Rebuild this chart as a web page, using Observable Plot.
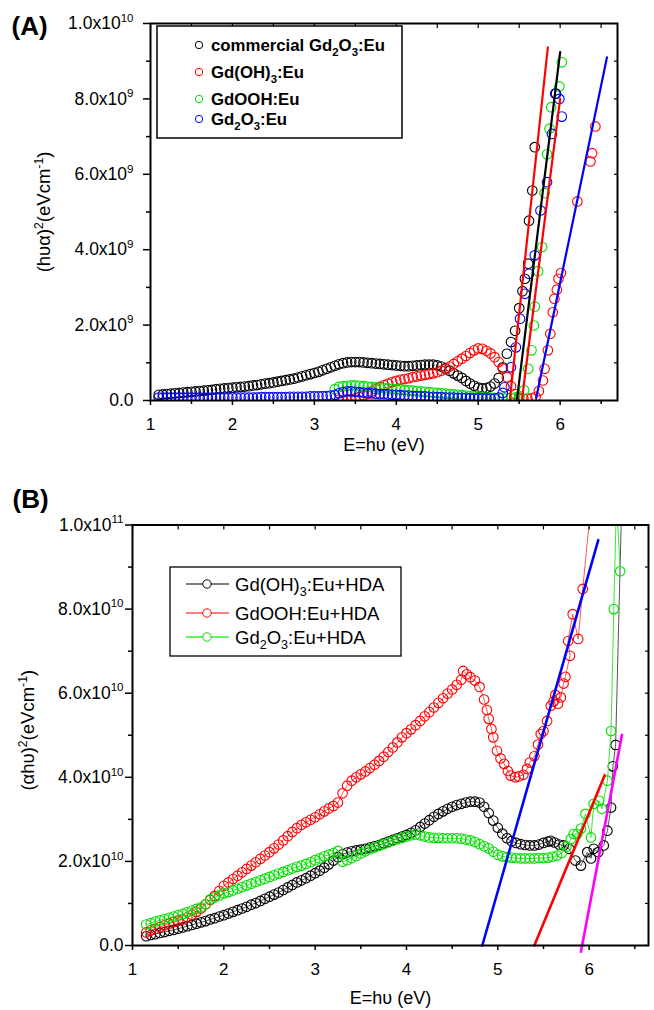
<!DOCTYPE html>
<html><head><meta charset="utf-8">
<script src="https://cdn.jsdelivr.net/npm/d3@7"></script>
<script src="https://cdn.jsdelivr.net/npm/@observablehq/plot@0.6"></script>
<style>
html,body{margin:0;padding:0;background:#fff;}
#wrap{position:relative;width:654px;height:1010px;overflow:hidden;background:#fff;font-family:'Liberation Sans',Arial,Helvetica,sans-serif;}
#wrap > svg{position:absolute;left:0;}
#wrap g[aria-label="y-axis tick label"]{font-size:17.5px !important;}
#wrap g[aria-label="x-axis tick label"]{font-size:17px !important;}
</style></head><body><div id="wrap"></div>
<script>
// ---------------- Panel A data (y in units of 1e9 eV cm^-1 squared) ----------------
const gridA = [
1.10,1.15,1.20,1.25,1.30,1.35,1.40,1.45,1.50,1.55,
1.60,1.65,1.70,1.75,1.80,1.85,1.90,1.95,2.00,2.05,
2.10,2.15,2.20,2.25,2.30,2.35,2.40,2.45,2.50,2.55,
2.60,2.65,2.70,2.75,2.80,2.85,2.90,2.95,3.00,3.05,
3.10,3.15,3.20,3.25,3.30,3.35,3.40,3.45,3.50,3.55,
3.60,3.65,3.70,3.75,3.80,3.85,3.90,3.95,4.00,4.05,
4.10,4.15,4.20,4.25,4.30,4.35,4.40,4.45,4.50,4.55,
4.60,4.65,4.70,4.75,4.80,4.85,4.90,4.95,5.00,5.05,
5.10,5.15,5.20,5.25,5.30,5.35,5.40,5.45,5.50];
const commercialA = [
0.15,0.16,0.17,0.18,0.19,0.20,0.21,0.22,0.23,0.24,
0.25,0.26,0.27,0.28,0.30,0.31,0.32,0.33,0.34,0.35,
0.36,0.37,0.38,0.40,0.41,0.43,0.45,0.46,0.48,0.50,
0.52,0.54,0.56,0.58,0.61,0.64,0.67,0.70,0.73,0.76,
0.80,0.84,0.88,0.92,0.96,0.99,1.01,1.02,1.02,1.02,
1.01,1.00,0.99,0.98,0.97,0.96,0.95,0.94,0.93,0.92,
0.91,0.91,0.92,0.93,0.94,0.95,0.95,0.95,0.93,0.90,
0.85,0.79,0.72,0.66,0.60,0.52,0.45,0.39,0.34,0.32,
0.33,0.37,0.45,0.60,0.88,1.24,1.55,1.85,2.45];
const commercialTailA = [[5.54,2.9],[5.57,3.23],[5.61,3.63],[5.62,4.77],[5.66,5.57],[5.69,6.72],[5.95,8.14]];
const hydroxideA = [
null,null,null,null,null,null,null,null,null,null,
null,null,null,null,null,null,null,null,null,null,
null,null,null,null,null,null,null,null,null,null,
null,null,null,null,null,null,null,null,null,null,
null,null,null,null,0.02,0.02,0.03,0.04,0.06,0.09,
0.13,0.18,0.24,0.30,0.36,0.41,0.45,0.49,0.52,0.55,
0.57,0.59,0.62,0.64,0.66,0.68,0.70,0.72,0.75,0.79,
0.84,0.90,0.97,1.04,1.11,1.18,1.26,1.33,1.38,1.37,
1.32,1.25,1.15,1.02,0.85,0.62,0.38,0.17,0.07];
const hydroxideTailA = [[5.55,0.05],[5.60,0.05],[5.65,0.06],[5.70,0.10],[5.74,0.25],[5.79,0.53],[5.81,0.84],[5.85,1.33],[5.88,1.77],[5.91,2.34],[5.93,2.70],[5.96,2.94],[5.98,3.23],[6.01,3.38],[6.21,5.28],[6.37,6.34],[6.39,6.56],[6.43,7.27]];
const oxyhydroxideA = [
null,null,null,null,null,null,null,null,null,null,
null,null,null,null,null,null,null,null,null,null,
null,null,null,null,null,null,null,null,null,null,
null,null,null,null,null,null,null,null,null,null,
null,null,null,0.30,0.36,0.38,0.39,0.40,0.40,0.39,
0.38,0.37,0.36,0.35,0.34,0.33,0.32,0.31,0.30,0.29,
0.28,0.27,0.26,0.25,0.24,0.23,0.22,0.21,0.20,0.19,
0.18,0.17,0.16,0.15,0.14,0.13,0.12,0.11,0.10,0.09,
0.08,0.08,0.07,0.07,0.07,0.07,0.07,0.08,0.12];
const oxyhydroxideTailA = [[5.56,0.27],[5.61,0.84],[5.65,1.33],[5.68,1.99],[5.69,2.49],[5.73,3.43],[5.78,4.07],[5.81,5.50],[5.84,6.53],[5.87,7.21],[5.89,7.78],[5.99,8.33],[6.02,8.97]];
const oxideA = [
0.08,0.08,0.08,0.08,0.08,0.08,0.08,0.08,0.08,0.08,
0.08,0.08,0.08,0.08,0.08,0.08,0.08,0.08,0.08,0.08,
0.08,0.08,0.08,0.08,0.08,0.09,0.09,0.09,0.09,0.09,
0.09,0.09,0.10,0.10,0.10,0.10,0.10,0.11,0.11,0.11,
0.12,0.12,0.13,0.15,0.19,0.22,0.24,0.24,0.23,0.22,
0.21,0.20,0.19,0.18,0.17,0.17,0.16,0.15,0.15,0.14,
0.13,0.13,0.12,0.12,0.11,0.11,0.10,0.10,0.09,0.09,
0.08,0.08,0.08,0.07,0.07,0.07,0.06,0.06,0.06,0.06,
0.05,0.05,0.05,0.08,0.20,null,null,null,null];
const oxideTailA = [[5.32,0.35],[5.40,0.88],[5.46,1.41],[5.51,2.17],[5.57,2.83],[5.62,3.36],[5.69,3.85],[5.76,5.04],[5.84,5.79],[5.90,7.07],[5.94,8.14],[5.99,8.00],[6.02,7.53]];
const namesA = ["commercial Gd_{2}O_{3}:Eu","Gd(OH)_{3}:Eu","GdOOH:Eu","Gd_{2}O_{3}:Eu"];
const colorsA = ["#000000","#ff0000","#00e000","#0000ff"];
const fitA_x = [[5.385,5.85],[5.474,6.0],[5.535,6.0],[5.707,6.571]];
const fitA_y = [[0,9.37],[0.05,9.24],[0.05,8.0],[0.06,9.1]];
const fitA_colors = ["#ff0000","#000000","#ff0000","#0000ff"];
const xTicksA = [1,2,3,4,5,6];
const xMinorA = [1.5,2.5,3.5,4.5,5.5,6.5];
const yTicksA = [0,2,4,6,8,10];
const yTickLabelsA = ["0.0","2.0x10^{9}","4.0x10^{9}","6.0x10^{9}","8.0x10^{9}","1.0x10^{10}"];
const yMinorA = [1,3,5,7,9];

// ---------------- Panel B data (y in units of 1e10) ----------------
const gridB = [
1.15,1.20,1.25,1.30,1.35,1.40,1.45,1.50,1.55,1.60,
1.65,1.70,1.75,1.80,1.85,1.90,1.95,2.00,2.05,2.10,
2.15,2.20,2.25,2.30,2.35,2.40,2.45,2.50,2.55,2.60,
2.65,2.70,2.75,2.80,2.85,2.90,2.95,3.00,3.05,3.10,
3.15,3.20,3.25,3.30,3.35,3.40,3.45,3.50,3.55,3.60,
3.65,3.70,3.75,3.80,3.85,3.90,3.95,4.00,4.05,4.10,
4.15,4.20,4.25,4.30,4.35,4.40,4.45,4.50,4.55,4.60];
const hydroxideB = [
0.22,0.25,0.27,0.30,0.32,0.35,0.37,0.40,0.43,0.46,
0.49,0.52,0.55,0.58,0.62,0.65,0.69,0.72,0.76,0.80,
0.84,0.88,0.92,0.97,1.01,1.06,1.11,1.16,1.21,1.26,
1.32,1.38,1.44,1.50,1.55,1.60,1.66,1.72,1.78,1.85,
1.93,2.02,2.10,2.17,2.21,2.24,2.26,2.28,2.30,2.33,
2.36,2.39,2.43,2.47,2.51,2.55,2.59,2.63,2.68,2.74,
2.82,2.90,2.98,3.06,3.13,3.19,3.25,3.30,3.34,3.37];
const hydroxideTailB = [[4.65,3.40],[4.70,3.42],[4.75,3.42],[4.80,3.40],[4.85,3.30],[4.90,3.15],[4.95,2.97],[5.00,2.80],[5.05,2.66],[5.10,2.55],[5.15,2.48],[5.20,2.44],[5.25,2.41],[5.30,2.39],[5.35,2.38],[5.40,2.38],[5.45,2.40],[5.50,2.44],[5.55,2.47],[5.58,2.49],[5.62,2.45],[5.67,2.40],[5.72,2.38],[5.78,2.30],[5.85,2.02],[5.91,1.90],[5.98,2.22],[6.02,2.07],[6.05,2.30],[6.10,2.22],[6.16,2.38],[6.20,2.73],[6.24,3.28],[6.26,4.26],[6.29,4.77],[6.36,10.8]];
const oxyhydroxideB = [
0.31,0.36,0.40,0.44,0.48,0.52,0.56,0.59,0.62,0.67,
0.73,0.80,0.88,0.98,1.08,1.18,1.30,1.42,1.50,1.58,
1.66,1.74,1.82,1.90,1.98,2.06,2.14,2.22,2.31,2.40,
2.50,2.60,2.70,2.79,2.87,2.93,2.99,3.05,3.12,3.19,
3.26,3.32,3.40,3.62,3.80,3.92,4.00,4.07,4.14,4.22,
4.30,4.39,4.49,4.60,4.71,4.83,4.95,5.05,5.14,5.24,
5.34,5.45,5.55,5.66,5.77,5.88,5.99,6.09,6.20,6.32];
const oxyhydroxideTailB = [[4.62,6.53],[4.66,6.45],[4.70,6.38],[4.75,6.30],[4.80,6.15],[4.85,5.85],[4.88,5.60],[4.90,5.39],[4.93,5.15],[4.95,4.95],[4.99,4.63],[5.03,4.45],[5.07,4.32],[5.11,4.15],[5.14,4.04],[5.19,4.00],[5.23,4.02],[5.28,4.06],[5.32,4.20],[5.35,4.35],[5.40,4.50],[5.44,4.78],[5.47,5.03],[5.50,5.10],[5.54,5.34],[5.58,5.70],[5.61,5.80],[5.63,5.96],[5.66,5.75],[5.69,5.90],[5.72,6.23],[5.74,6.39],[5.79,6.89],[5.77,7.24],[5.82,7.88],[5.88,7.29],[5.93,8.48],[6.02,10.5]];
const oxideB = [
0.50,0.53,0.57,0.60,0.63,0.66,0.69,0.72,0.75,0.79,
0.83,0.87,0.91,0.98,1.10,1.14,1.19,1.24,1.27,1.31,
1.35,1.39,1.43,1.47,1.51,1.55,1.59,1.63,1.67,1.71,
1.75,1.79,1.83,1.87,1.90,1.94,1.98,2.03,2.07,2.12,
2.16,2.20,2.25,1.99,2.03,2.08,2.13,2.19,2.24,2.29,
2.33,2.37,2.41,2.45,2.49,2.53,2.56,2.59,2.62,2.64,
2.62,2.59,2.57,2.56,2.56,2.55,2.55,2.55,2.55,2.54];
const oxideTailB = [[4.65,2.52],[4.70,2.50],[4.75,2.46],[4.80,2.41],[4.85,2.36],[4.90,2.31],[4.95,2.23],[5.00,2.16],[5.05,2.12],[5.10,2.10],[5.15,2.09],[5.20,2.08],[5.25,2.07],[5.30,2.07],[5.35,2.07],[5.40,2.07],[5.45,2.08],[5.50,2.08],[5.55,2.09],[5.60,2.11],[5.65,2.14],[5.70,2.20],[5.75,2.35],[5.80,2.53],[5.83,2.65],[5.87,2.65],[5.91,2.78],[5.96,3.13],[6.02,2.57],[6.05,3.37],[6.11,3.44],[6.14,3.25],[6.20,3.92],[6.24,5.10],[6.27,8.00],[6.30,10.6],[6.34,8.90]];
const namesB = ["Gd(OH)_{3}:Eu+HDA","GdOOH:Eu+HDA","Gd_{2}O_{3}:Eu+HDA"];
const colorsB = ["#000000","#ff0000","#00e000"];
const lineColorsB = ["#555555","#ff5555","#33ee33"];
const fitB_x = [[4.83,6.10],[5.40,6.17],[5.91,6.36]];
const fitB_y = [[0,9.64],[0,4.05],[-0.15,5.01]];
const fitB_colors = ["#0000ff","#ff0000","#ff00ff"];
const xTicksB = [1,2,3,4,5,6];
const xMinorB = [1.5,2.5,3.5,4.5,5.5,6.5];
const yTicksB = [0,2,4,6,8,10];
const yTickLabelsB = ["0.0","2.0x10^{10}","4.0x10^{10}","6.0x10^{10}","8.0x10^{10}","1.0x10^{11}"];
const yMinorB = [1,3,5,7,9];

// ---------------- helpers ----------------
const FONT = "'Liberation Sans', Arial, Helvetica, sans-serif";
const NS = "http://www.w3.org/2000/svg";
function build(grid, vals, tail) {
  const out = [];
  grid.forEach((x, i) => { if (vals[i] != null) out.push({x, y: vals[i]}); });
  tail.forEach(([x, y]) => out.push({x, y}));
  return out;
}
function fitData(xs, ys) { return xs.map((x, j) => ({x, y: ys[j]})); }
function richify(root) {
  root.querySelectorAll("text").forEach(t => {
    const s = t.textContent;
    if (!/[\^_]\{/.test(s)) return;
    const fs = parseFloat(getComputedStyle(t).fontSize) || 16;
    while (t.firstChild) t.removeChild(t.firstChild);
    const parts = s.split(/(\^\{[^}]*\}|_\{[^}]*\})/).filter(p => p);
    let shift = 0;
    for (const p of parts) {
      const ts = document.createElementNS(NS, "tspan");
      let target = 0, size = null, txt = p;
      if (p.startsWith("^{")) { target = -0.42 * fs; size = 0.66 * fs; txt = p.slice(2, -1); }
      else if (p.startsWith("_{")) { target = 0.3 * fs; size = 0.68 * fs; txt = p.slice(2, -1); }
      ts.setAttribute("dy", (target - shift).toFixed(2));
      shift = target;
      if (size) ts.setAttribute("font-size", size.toFixed(2));
      ts.textContent = txt;
      t.appendChild(ts);
    }
  });
}
function axesMarks(cfg) {
  return [
    Plot.frame({stroke: "black", strokeWidth: 2}),
    Plot.axisX({ticks: cfg.xTicks, tickFormat: d => String(d), tickSize: 5, tickPadding: cfg.xPad, strokeWidth: 1.5, label: null}),
    Plot.axisX({ticks: cfg.xMinor, tickFormat: () => "", tickSize: 4, strokeWidth: 1.5, label: null}),
    Plot.axisX({anchor: "top", ticks: cfg.xTicks.concat(cfg.xMinor), tickFormat: () => "", tickSize: -4, strokeWidth: 1.2, label: null}),
    Plot.axisY({ticks: cfg.yTicks, tickFormat: d => cfg.yLabels[cfg.yTicks.indexOf(d)], tickSize: 7, tickPadding: cfg.yPad, strokeWidth: 1.5, label: null}),
    Plot.axisY({ticks: cfg.yMinor, tickFormat: () => "", tickSize: 4, strokeWidth: 1.5, label: null}),
    Plot.axisY({anchor: "right", ticks: cfg.yTicks.concat(cfg.yMinor), tickFormat: () => "", tickSize: -4, strokeWidth: 1.2, label: null})
  ];
}

const wrap = document.getElementById("wrap");

// ---------------- Panel A ----------------
const seriesA = [
  build(gridA, commercialA, commercialTailA),
  build(gridA, hydroxideA, hydroxideTailA),
  build(gridA, oxyhydroxideA, oxyhydroxideTailA),
  build(gridA, oxideA, oxideTailA)
];
const plotA = Plot.plot({
  width: 654, height: 470,
  marginTop: 23, marginBottom: 70, marginLeft: 150, marginRight: 37,
  style: {fontFamily: FONT, background: "transparent", overflow: "visible", color: "black"},
  x: {domain: [1, 6.7]},
  y: {domain: [0, 10]},
  marks: [
    ...seriesA.map((s, i) => Plot.dot(s, {x: "x", y: "y", r: 4.8, stroke: colorsA[i], strokeWidth: 1.1, fill: "none", clip: true})),
    ...fitA_x.map((xs, i) => Plot.line(fitData(xs, fitA_y[i]), {x: "x", y: "y", stroke: fitA_colors[i], strokeWidth: 2.2})),
    ...axesMarks({xTicks: xTicksA, xMinor: xMinorA, yTicks: yTicksA, yMinor: yMinorA, yLabels: yTickLabelsA, xPad: 12, yPad: 10}),
    Plot.text(["(hυα)^{2}(eVcm^{-1})"], {text: d => d, frameAnchor: "left", textAnchor: "middle", lineAnchor: "middle", rotate: -90, dx: -106, fontSize: 18.5}),
    Plot.text(["E=hυ (eV)"], {text: d => d, frameAnchor: "bottom", textAnchor: "middle", lineAnchor: "middle", dy: 45, fontSize: 18}),
    Plot.text(["(A)"], {text: d => d, frameAnchor: "top-left", textAnchor: "start", lineAnchor: "middle", dx: -139, dy: 3, fontSize: 26, fontWeight: "bold"})
  ]
});
plotA.style.top = "0px";
wrap.appendChild(plotA);

// ---------------- Panel B ----------------
const seriesB = [
  build(gridB, hydroxideB, hydroxideTailB),
  build(gridB, oxyhydroxideB, oxyhydroxideTailB),
  build(gridB, oxideB, oxideTailB)
];
const marksB = [];
seriesB.forEach((s, i) => {
  marksB.push(Plot.line(s, {x: "x", y: "y", stroke: lineColorsB[i], strokeWidth: 1, clip: true}));
  marksB.push(Plot.dot(s, {x: "x", y: "y", r: 4.8, stroke: colorsB[i], strokeWidth: 1.1, fill: "none", clip: true}));
});
const plotB = Plot.plot({
  width: 654, height: 540,
  marginTop: 54.5, marginBottom: 65, marginLeft: 132, marginRight: 6,
  style: {fontFamily: FONT, background: "transparent", overflow: "visible", color: "black"},
  x: {domain: [1, 6.65]},
  y: {domain: [0, 10]},
  marks: [
    ...marksB,
    ...fitB_x.map((xs, i) => Plot.line(fitData(xs, fitB_y[i]), {x: "x", y: "y", stroke: fitB_colors[i], strokeWidth: 2.6})),
    ...axesMarks({xTicks: xTicksB, xMinor: xMinorB, yTicks: yTicksB, yMinor: yMinorB, yLabels: yTickLabelsB, xPad: 12, yPad: 2}),
    Plot.text(["(αhυ)^{2}(eVcm^{-1})"], {text: d => d, frameAnchor: "left", textAnchor: "middle", lineAnchor: "middle", rotate: -90, dx: -104, dy: -5, fontSize: 18.5}),
    Plot.text(["E=hυ (eV)"], {text: d => d, frameAnchor: "bottom", textAnchor: "middle", lineAnchor: "middle", dy: 53, fontSize: 18}),
    Plot.text(["(B)"], {text: d => d, frameAnchor: "top-left", textAnchor: "start", lineAnchor: "middle", dx: -120, dy: -25.5, fontSize: 26, fontWeight: "bold"})
  ]
});
plotB.style.top = "470px";
wrap.appendChild(plotB);

// ---------------- Legends ----------------
const legA = d3.create("svg").attr("width", 247).attr("height", 114)
  .style("position", "absolute").style("left", "156px").style("top", "25px");
legA.append("rect").attr("x", 1).attr("y", 1).attr("width", 245).attr("height", 112)
  .attr("fill", "white").attr("stroke", "black").attr("stroke-width", 1.5);
const rowsA = [20, 47, 74, 94];
namesA.forEach((n, i) => {
  legA.append("circle").attr("cx", 43).attr("cy", rowsA[i]).attr("r", 3.7)
    .attr("fill", "none").attr("stroke", colorsA[i]).attr("stroke-width", 1);
  legA.append("text").attr("x", 55).attr("y", rowsA[i] + 5.5)
    .attr("font-family", FONT).attr("font-size", 16.8).attr("font-weight", "bold").text(n);
});
wrap.appendChild(legA.node());

const legB = d3.create("svg").attr("width", 233).attr("height", 91)
  .style("position", "absolute").style("left", "169px").style("top", "566px");
legB.append("rect").attr("x", 1).attr("y", 1).attr("width", 231).attr("height", 89)
  .attr("fill", "white").attr("stroke", "black").attr("stroke-width", 1.3);
const rowsB = [18, 47, 71];
namesB.forEach((n, i) => {
  legB.append("line").attr("x1", 17).attr("x2", 60).attr("y1", rowsB[i]).attr("y2", rowsB[i])
    .attr("stroke", lineColorsB[i]).attr("stroke-width", 1.3);
  legB.append("circle").attr("cx", 38).attr("cy", rowsB[i]).attr("r", 4.2)
    .attr("fill", "white").attr("stroke", colorsB[i]).attr("stroke-width", 1);
  legB.append("text").attr("x", 66).attr("y", rowsB[i] + 6.5)
    .attr("font-family", FONT).attr("font-size", 18.5).text(n);
});
wrap.appendChild(legB.node());

richify(wrap);
</script></body></html>
